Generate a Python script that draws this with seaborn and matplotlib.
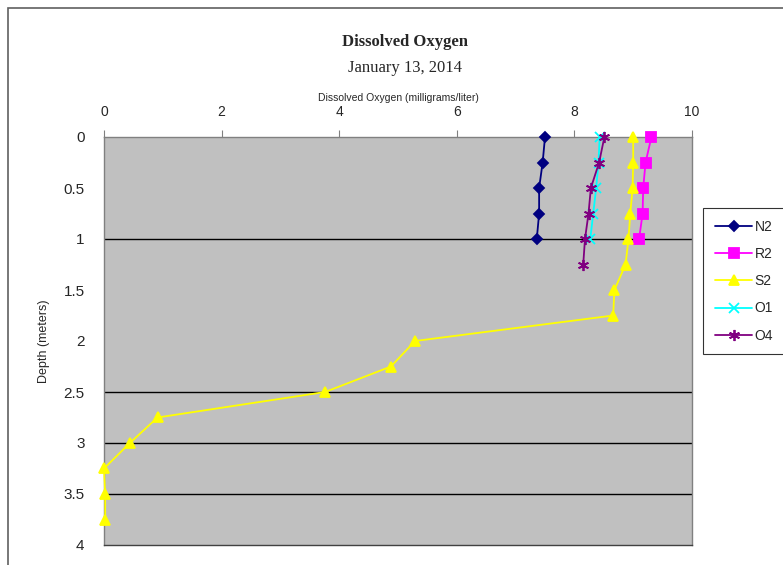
import matplotlib
matplotlib.use("Agg")
import matplotlib.pyplot as plt
import seaborn as sns
import pandas as pd
from matplotlib.patches import Rectangle

# ---- data ----
n2_depth = [0, 0.25, 0.5, 0.75, 1.0]
n2_do = [7.50, 7.46, 7.40, 7.40, 7.36]

r2_depth = [0, 0.25, 0.5, 0.75, 1.0]
r2_do = [9.31, 9.21, 9.17, 9.16, 9.10]

s2_depth = [0, 0.25, 0.5, 0.75, 1.0, 1.25, 1.5, 1.75, 2.0, 2.25, 2.5, 2.75, 3.0, 3.25, 3.5, 3.75]
s2_do = [9.00, 9.00, 8.99, 8.95, 8.92, 8.87, 8.68, 8.66, 5.29, 4.88, 3.76, 0.91, 0.44, 0.0, 0.02, 0.02]

o1_depth = [0, 0.25, 0.5, 0.75, 1.0]
o1_do = [8.43, 8.41, 8.37, 8.32, 8.27]

o4_depth = [0, 0.25, 0.5, 0.75, 1.0, 1.25]
o4_do = [8.51, 8.42, 8.28, 8.24, 8.18, 8.15]

series_names = ["N2", "R2", "S2", "O1", "O4"]
colors = ["#000080", "#FF00FF", "#FFFF00", "#00FFFF", "#800080"]
x_ticks = [0, 2, 4, 6, 8, 10]
y_ticks = [0, 0.5, 1, 1.5, 2, 2.5, 3, 3.5, 4]
y_ticklabels = ["0", "0.5", "1", "1.5", "2", "2.5", "3", "3.5", "4"]
grid_depths = [1, 2.5, 3, 3.5]

title1 = "Dissolved Oxygen"
title2 = "January 13, 2014"
xlabel = "Dissolved Oxygen (milligrams/liter)"
ylabel = "Depth (meters)"

frames = []
for name, d, v in zip(series_names,
                      [n2_depth, r2_depth, s2_depth, o1_depth, o4_depth],
                      [n2_do, r2_do, s2_do, o1_do, o4_do]):
    frames.append(pd.DataFrame({"site": name, "depth": d, "do": v}))
df = pd.concat(frames, ignore_index=True)

sns.set_theme(style="white")
plt.rcParams["font.family"] = ["Liberation Sans", "DejaVu Sans"]

fig = plt.figure(figsize=(7.83, 5.65), dpi=100)
ax = fig.add_axes([104 / 783, 1 - 545 / 565, (692 - 104) / 783, (545 - 137) / 565])
ax.set_facecolor("#C0C0C0")

palette = dict(zip(series_names, colors))
markers = {"N2": "D", "R2": "s", "S2": "^", "O1": "x", "O4": (6, 2, 0)}
sizes_m = {"N2": 5, "R2": 7, "S2": 7, "O1": 7, "O4": 8}

for name in series_names:
    sub = df[df["site"] == name]
    sns.lineplot(data=sub, x="do", y="depth", sort=False, estimator=None,
                 color=palette[name], marker=markers[name], markersize=sizes_m[name],
                 markeredgecolor=palette[name], markeredgewidth=1.3,
                 linewidth=1.3, label=name, ax=ax, legend=False, clip_on=False, zorder=3)

for gd in grid_depths:
    ax.axhline(gd, color="black", linewidth=1.0, zorder=1)

ax.set_xlim(0, 10)
ax.set_ylim(4, 0)
ax.xaxis.tick_top()
ax.xaxis.set_label_position("top")
ax.set_xticks(x_ticks)
ax.set_xticklabels([str(t) for t in x_ticks], fontsize=10)
ax.set_yticks(y_ticks)
ax.set_yticklabels(y_ticklabels, fontsize=11)
ax.tick_params(axis="x", direction="out", length=5, width=0.8, color="#808080", pad=8)
ax.tick_params(axis="y", direction="out", length=6, width=0.8, color="#808080", pad=8)
ax.set_xlabel(xlabel, fontsize=7.5, labelpad=3)
ax.set_ylabel(ylabel, fontsize=9, labelpad=10)

for s in ["left", "right", "top", "bottom"]:
    ax.spines[s].set_visible(True)
    ax.spines[s].set_color("#808080")
    ax.spines[s].set_linewidth(1.0)
ax.spines["bottom"].set_color("#404040")

fig.text(405 / 783, 1 - 42 / 565, title1, ha="center", va="center",
         fontsize=12, fontweight="bold", family=["Liberation Serif", "DejaVu Serif"])
fig.text(405 / 783, 1 - 68 / 565, title2, ha="center", va="center",
         fontsize=12, family=["Liberation Serif", "DejaVu Serif"])

handles, labels = ax.get_legend_handles_labels()
leg = fig.legend(handles, labels, loc="upper left", bbox_to_anchor=(703 / 783, 1 - 208 / 565),
                 frameon=True, fancybox=False, fontsize=10, handlelength=2.7,
                 labelspacing=0.95, borderpad=0.85, handletextpad=0.15, borderaxespad=0)
leg.get_frame().set_edgecolor("black")
leg.get_frame().set_linewidth(0.8)

# outer chart border
fig.patches.append(Rectangle((8 / 783, -0.05), 1.1, 1.05 - 8 / 565, transform=fig.transFigure,
                             fill=False, edgecolor="#606060", linewidth=1.2))

fig.savefig("out.png", dpi=100)
